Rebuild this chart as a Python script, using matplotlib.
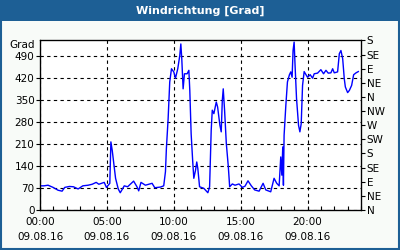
import numpy as np
import matplotlib
matplotlib.use("Agg")
import matplotlib.pyplot as plt
from matplotlib.patches import Rectangle

# Zeit in Stunden (09.08.16) und Windrichtung in Grad
hours = [0.0, 0.3, 0.6, 0.98, 1.35, 1.65, 1.85, 2.2, 2.5, 2.85, 3.2, 3.6, 3.9, 4.2, 4.4,
         4.8, 4.97, 5.22, 5.3, 5.4, 5.65, 5.85, 6.0, 6.3, 6.55, 7.0, 7.25, 7.38, 7.55,
         7.88, 8.38, 8.58, 9.0, 9.25, 9.38, 9.45, 9.58, 9.7, 9.83, 10.0, 10.13, 10.3,
         10.45, 10.53, 10.6, 10.7, 10.8, 11.0, 11.13, 11.2, 11.3, 11.42, 11.5, 11.63,
         11.72, 11.8, 11.93, 12.25, 12.55, 12.68, 12.8, 12.88, 13.0, 13.18, 13.28,
         13.45, 13.55, 13.63, 13.7, 13.8, 13.93, 14.08, 14.18, 14.38, 14.58, 14.88,
         15.13, 15.33, 15.55, 15.8, 16.05, 16.38, 16.68, 16.88, 17.25, 17.5, 17.7,
         17.88, 18.0, 18.08, 18.15, 18.2, 18.25, 18.38, 18.5, 18.65, 18.75, 18.85,
         18.92, 19.0, 19.07, 19.18, 19.33, 19.43, 19.53, 19.63, 19.75, 20.0, 20.2,
         20.38, 20.5, 20.75, 21.0, 21.2, 21.38, 21.55, 21.75, 21.88, 22.0, 22.25,
         22.38, 22.5, 22.63, 22.75, 22.83, 23.0, 23.13, 23.3, 23.45, 23.63, 23.8]
grad = [77, 77, 79, 72, 63, 60, 72, 75, 74, 67, 77, 79, 82, 88, 82,
        88, 72, 85, 217, 190, 101, 67, 55, 77, 74, 92, 74, 61, 88,
        79, 85, 71, 73, 77, 122, 196, 291, 408, 450, 440, 420, 450,
        492, 529, 482, 386, 434, 434, 445, 381, 243, 153, 101, 127,
        153, 132, 74, 69, 55, 74, 254, 318, 307, 344, 328,
        270, 249, 349, 386, 318, 212, 138, 74, 83, 79, 83,
        72, 76, 93, 77, 64, 60, 85, 64, 58, 101, 85,
        77, 169, 111, 201, 79, 238, 333, 408, 431, 440, 423,
        508, 535, 461, 355, 270, 249, 275, 397, 441, 423, 431,
        420, 434, 436, 447, 434, 445, 436, 437, 450, 437, 440,
        498, 508, 482, 418, 392, 374, 381, 397, 431, 437, 441]

left_ticks = [0, 70, 140, 210, 280, 350, 420, 490]
right_ticks = list(range(0, 541, 45))
right_labels = ["N", "NE", "E", "SE", "S", "SW", "W", "NW", "N", "NE", "E", "SE", "S"]
x_major = [0, 5, 10, 15, 20]
x_labels = ["00:00\n09.08.16", "05:00\n09.08.16", "10:00\n09.08.16",
            "15:00\n09.08.16", "20:00\n09.08.16"]

blue_frame = "#1d5f95"
fs = 7.5

fig = plt.figure(figsize=(4, 2.5), dpi=100, facecolor="#f8fbf8")

# Titelleiste und Rahmen
fig.patches.append(Rectangle((0, 0.918), 1, 0.082, transform=fig.transFigure,
                             facecolor=blue_frame, edgecolor="none", zorder=0))
fig.patches.append(Rectangle((0.002, 0.004), 0.996, 0.99, transform=fig.transFigure,
                             facecolor="none", edgecolor=blue_frame, lw=1.5, zorder=5))
fig.text(0.5, 0.958, "Windrichtung [Grad]", color="white", fontsize=8,
         fontweight="bold", ha="center", va="center")

ax = fig.add_axes([0.1, 0.16, 0.8025, 0.678])
ax.set_facecolor("white")
ax.plot(hours, grad, color="#0000ff", lw=1.0, zorder=3)

ax.set_xlim(0, 24)
ax.set_ylim(0, 540)
ax.set_yticks(left_ticks)
ax.set_xticks(x_major)
ax.set_xticklabels(x_labels, fontsize=fs, linespacing=1.6)
ax.set_xticks(np.arange(0, 25, 1), minor=True)
ax.tick_params(axis="y", labelsize=fs, length=3, width=0.8, direction="out", pad=1)
ax.tick_params(axis="x", which="both", direction="in", length=3, width=0.8, pad=5)
ax.grid(True, color="black", ls=(0, (3, 3)), lw=0.8)
for s in ax.spines.values():
    s.set_linewidth(0.9)
ax.text(-0.015, 1.0, "Grad", transform=ax.transAxes, ha="right", va="top", fontsize=fs)

ax2 = ax.twinx()
ax2.set_ylim(0, 540)
ax2.set_yticks(right_ticks)
ax2.set_yticklabels(right_labels, fontsize=fs)
ax2.tick_params(axis="y", length=3, width=0.8, direction="out", pad=1)

fig.savefig("out.png", dpi=100, facecolor=fig.get_facecolor())
